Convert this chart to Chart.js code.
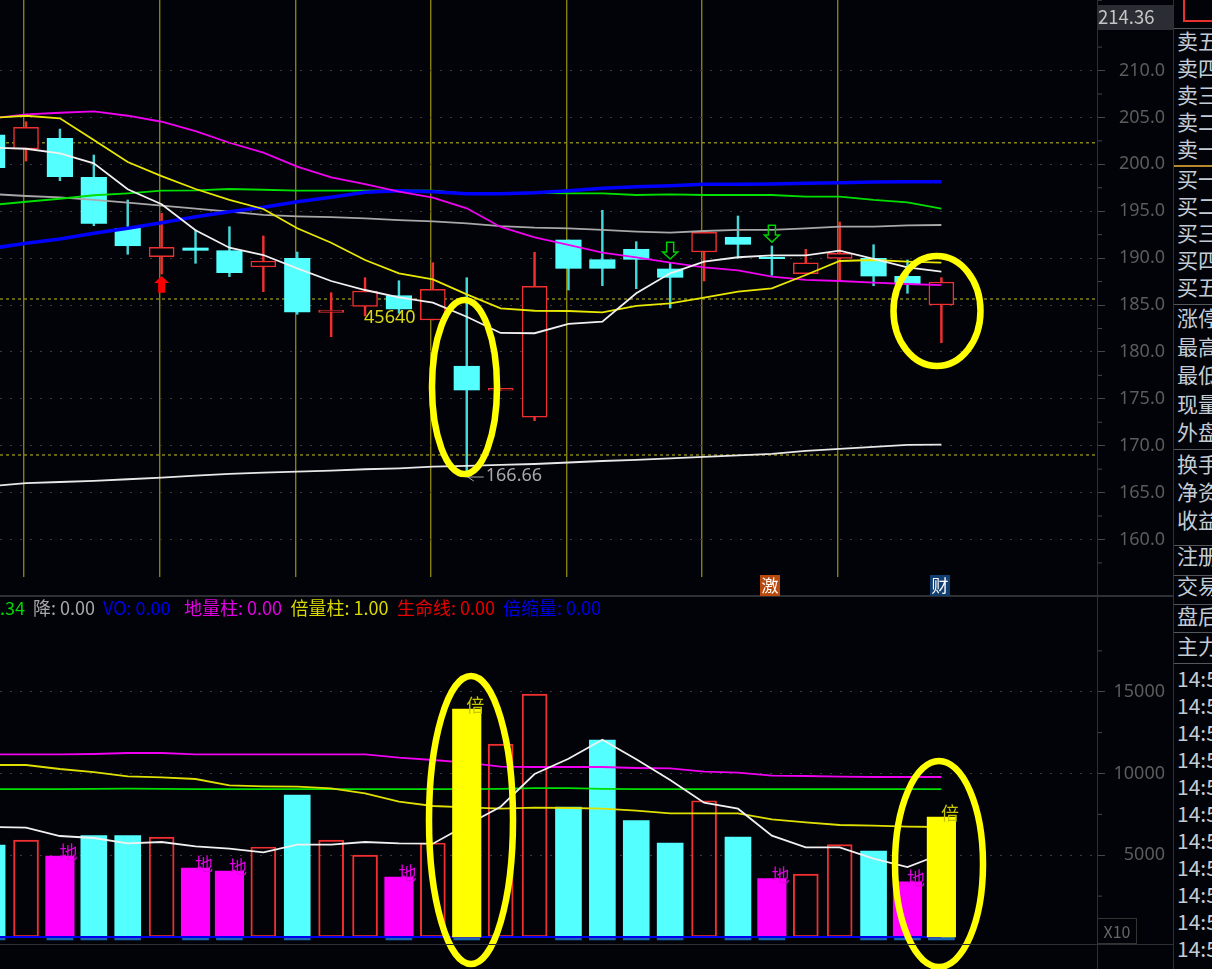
<!DOCTYPE html>
<html>
<head>
<meta charset="utf-8">
<title>K线</title>
<script src="https://cdn.jsdelivr.net/npm/chart.js@4"></script>
<style>
  html, body { margin: 0; padding: 0; background: #020209; width: 1212px; height: 969px; overflow: hidden; }
  body { position: relative; font-family: "Noto Sans CJK SC", sans-serif; }
  canvas { position: absolute; left: 0; }
  #priceChart { top: 0; }
  #volChart { top: 596px; }
  .abs { position: absolute; white-space: nowrap; }
  .rule { position: absolute; background: #2f3033; }
  .side { position: absolute; left: 1177px; font-size: 21px; line-height: 26px; color: #c3ccd4; white-space: nowrap; }
  .head { position: absolute; top: 595px; font-size: 18px; line-height: 24px; white-space: nowrap; }
</style>
</head>
<body>
<canvas id="priceChart" width="1165" height="596" style="width:1165px;height:596px"></canvas>
<canvas id="volChart" width="1165" height="373" style="width:1165px;height:373px"></canvas>
<div id="overlay"></div>
<script>
// --- values ---
const bars = [0,1,2,3,4,5,6,7,8,9,10,11,12,13,14,15,16,17,18,19,20,21,22,23,24,25,26,27,28];

const opens  = [203.12,201.63,202.77,198.62,193.18,190.15,191.08,190.79,189.05,189.98,184.22,184.86,185.99,183.40,178.47,175.91,173.03,191.93,189.83,190.94,188.84,190.65,192.22,190.09,188.34,189.98,189.98,188.06,185.00];
const closes = [199.64,203.94,198.68,193.71,191.32,191.15,190.83,188.45,189.69,184.26,184.47,186.49,184.58,186.68,175.94,176.12,187.00,188.91,188.91,189.87,187.95,192.75,191.47,189.94,189.51,190.51,188.09,187.27,187.45];
const highs  = [203.66,204.54,203.76,200.99,196.20,194.78,193.00,193.35,192.36,190.65,186.31,187.91,187.59,189.51,187.91,176.12,190.62,191.93,195.10,191.75,189.45,192.75,194.49,191.29,190.94,193.85,191.43,189.80,187.91];
const lows   = [199.18,200.35,198.25,193.46,190.41,188.31,189.45,188.02,186.42,184.01,181.62,183.83,184.12,183.40,166.66,175.91,172.67,186.60,187.06,186.74,184.68,187.56,189.98,188.17,188.34,187.59,187.06,186.25,180.98];

const ma5   = [201.77,201.66,201.17,200.11,197.34,195.74,192.97,191.11,190.33,188.91,187.56,186.60,185.82,185.25,183.75,182.02,181.99,182.98,183.22,186.25,188.38,189.62,190.09,190.30,190.30,190.79,189.91,189.02,188.55];
const ma10  = [204.94,205.18,204.90,202.59,200.25,198.75,197.37,196.20,195.24,193.18,191.64,189.80,188.38,187.74,186.14,184.65,184.39,184.36,184.22,184.90,185.18,185.78,186.42,186.78,188.20,189.69,189.80,189.62,189.51];
const ma20  = [204.90,205.33,205.50,205.65,205.18,204.54,203.55,202.30,201.24,199.75,198.62,197.90,197.08,196.44,195.31,193.32,192.22,191.40,190.58,190.09,189.51,189.02,188.70,188.02,187.67,187.56,187.38,187.24,187.13];
const ma30  = [196.83,196.62,196.48,196.20,195.91,195.59,195.27,194.95,194.60,194.46,194.38,194.24,194.06,193.92,193.71,193.42,193.24,193.18,193.00,192.82,192.71,192.89,193.00,193.00,193.18,193.35,193.35,193.50,193.53];
const ma60  = [195.66,196.01,196.33,196.70,196.91,197.19,197.23,197.37,197.29,197.19,197.19,197.19,197.23,197.19,196.87,196.87,196.97,196.91,196.91,196.73,196.80,196.73,196.73,196.73,196.55,196.55,196.20,195.95,195.27];
const ma120 = [191.05,191.58,192.04,192.65,193.18,193.78,194.42,194.95,195.42,196.01,196.48,197.02,197.19,197.08,196.87,196.87,196.97,197.19,197.44,197.61,197.72,197.87,197.87,197.90,197.98,198.04,198.11,198.15,198.15];
const ma250 = [165.71,166.00,166.13,166.24,166.42,166.59,166.81,166.99,167.13,167.23,167.34,167.49,167.59,167.76,167.84,167.95,168.05,168.21,168.37,168.48,168.64,168.80,168.96,169.12,169.44,169.65,169.87,170.08,170.11];

const priceTicks = [160,165,170,175,180,185,190,195,200,205,210];
const refLevels = [202.3, 185.64, 169.01];
const markerBars = [0.94,4.94,8.94,12.94,16.94,20.94,24.94];

const volumes = [5627,5933,4954,6196,6196,6116,4220,4037,5505,8685,5933,5015,3670,5750,13945,11804,14862,7951,12049,7113,5750,8336,6116,3566,3853,5645,5260,3382,7340];
const volKinds = ["down","up","low","down","down","up","low","low","up","down","up","up","low","up","double","up","up","down","down","down","down","up","down","low","up","up","down","low","double"];
const volMa5  = [6728,6685,6177,6055,5731,5810,5547,5400,5180,5645,5645,5810,5731,5706,6850,7970,9970,10905,12067,10868,9602,8214,7847,6196,5486,5486,4789,4281,5076];
const volMa10 = [10520,10520,10275,10090,9828,9767,9663,9278,9217,9192,9094,8789,8275,8012,7932,7847,7908,7890,7847,7724,7565,7565,7565,7198,7015,6850,6807,6746,6728];
const volMa20 = [11174,11174,11174,11192,11253,11253,11174,11174,11174,11174,11174,11174,10966,10825,10660,10416,10397,10397,10397,10336,10318,10110,10049,9865,9847,9804,9786,9786,9786];
const volMa60 = [9050,9050,9050,9060,9070,9060,9050,9050,9050,9050,9050,9050,9050,9050,9050,9060,9110,9110,9060,9050,9050,9050,9050,9050,9050,9050,9050,9050,9050];
const volTicks = [5000,10000,15000];

const sideRows = [["卖五",27],["卖四",54],["卖三",81],["卖二",108],["卖一",135],["买一",165],["买二",192],["买三",219],["买四",246],["买五",273],["涨停",304],["最高",333],["最低",361],["现量",390],["外盘",418],["换手",450],["净资",478],["收益",506],["注册",542],["交易",572],["盘后",602],["主力",632]];
const timeRows = [665,692,719,746,773,800,827,854,881,908,935];
const headItems = [[0,".34","#00d800"],[33,"降: 0.00","#a8a8a8"],[103,"VO: 0.00","#0000e8"],[184,"地量柱: 0.00","#e000e0"],[290.5,"倍量柱: 1.00","#d8d800"],[397,"生命线: 0.00","#e80000"],[503,"倍缩量: 0.00","#0000e8"]];

// --- shared look ---
const BG = "#020209";
const CYAN = "#54ffff";
const RED = "#f03030";
const LABEL_FONT = '"Noto Sans", sans-serif';
const CJK_FONT = '"Noto Sans CJK SC", sans-serif';
const X_MIN = 0.2325, X_MAX = 32.59;

function pick(arr, test) {
  return arr.map((v, i) => (test(i) ? v : null));
}

function lineSet(label, data, yAxisID, color, width, order) {
  return { type: "line", label, data, yAxisID, borderColor: color, borderWidth: width,
           pointRadius: 0, tension: 0, fill: false, order: order, clip: true };
}

function refSet(level) {
  return { type: "line", label: "ref", data: [{ x: X_MIN, y: level }, { x: X_MAX, y: level }],
           yAxisID: "y", borderColor: "#85851a", borderWidth: 1.5, borderDash: [3, 3], pointRadius: 0, order: 30 };
}

function yAxis(min, max, ticks, fmt) {
  return {
    position: "right", min, max,
    afterBuildTicks: s => { s.ticks = ticks.map(v => ({ value: v })); },
    // tick labels must not push the plot area in
    afterFit: s => { s.width = 68; s.paddingTop = 0; s.paddingBottom = 0; },
    ticks: { color: "#5c5c5c", font: { size: 18, family: LABEL_FONT }, crossAlign: "far", callback: fmt },
    grid: { color: "#3a3a3a", tickColor: "#474747", tickLength: 8, drawTicks: true },
    border: { display: false, dash: [2, 8] }
  };
}

function xAxis(lines) {
  const opt = { type: "linear", min: X_MIN, max: X_MAX, display: lines, offset: false,
                ticks: { display: false }, border: { display: false },
                grid: { color: "#85800a", lineWidth: 1.4, drawTicks: false, offset: false } };
  if (lines) opt.afterBuildTicks = s => { s.ticks = markerBars.map(v => ({ value: v })); };
  return opt;
}

function minorTicks(ctx, scale, step) {
  ctx.strokeStyle = "#474747";
  ctx.lineWidth = 1;
  for (let v = Math.ceil(scale.min / step) * step; v < scale.max; v += step) {
    if (v % (step * 2) === 0) continue;
    const y = scale.getPixelForValue(v);
    ctx.beginPath(); ctx.moveTo(scale.left, y); ctx.lineTo(scale.left + 5, y); ctx.stroke();
  }
}

function ring(ctx, cx, cy, rx, ry) {
  ctx.save();
  ctx.strokeStyle = "#ffff00";
  ctx.lineWidth = 6.5;
  ctx.beginPath();
  ctx.ellipse(cx, cy, rx, ry, 0, 0, Math.PI * 2);
  ctx.stroke();
  ctx.restore();
}

// up and down arrows sitting on a candle
function arrow(ctx, x, top, bottom, dir, color, filled) {
  const h = bottom - top, tip = dir > 0 ? top : bottom, back = dir > 0 ? bottom : top;
  const neck = tip + dir * h * 0.42;
  ctx.save();
  ctx.beginPath();
  ctx.moveTo(x, tip);
  ctx.lineTo(x + 7.5, neck);
  ctx.lineTo(x + 3.5, neck);
  ctx.lineTo(x + 3.5, back);
  ctx.lineTo(x - 3.5, back);
  ctx.lineTo(x - 3.5, neck);
  ctx.lineTo(x - 7.5, neck);
  ctx.closePath();
  if (filled) { ctx.fillStyle = color; ctx.fill(); }
  else { ctx.strokeStyle = color; ctx.lineWidth = 1.5; ctx.stroke(); }
  ctx.restore();
}

const priceMarks = {
  id: "priceMarks",
  afterDraw(chart) {
    const { ctx, scales } = chart;
    const x = scales.x, y = scales.y;
    minorTicks(ctx, y, 2.5);
    // red buy arrow and the two green hollow ones
    arrow(ctx, x.getPixelForValue(5), y.getPixelForValue(188.1), y.getPixelForValue(186.3), 1, "#ff0000", true);
    arrow(ctx, x.getPixelForValue(20), y.getPixelForValue(191.7), y.getPixelForValue(189.9), -1, "#00d000", false);
    arrow(ctx, x.getPixelForValue(23), y.getPixelForValue(193.5), y.getPixelForValue(191.7), -1, "#00d000", false);
    // labels
    ctx.save();
    ctx.font = "18px " + LABEL_FONT;
    ctx.textBaseline = "middle";
    ctx.textAlign = "left";
    ctx.fillStyle = "#d8d818";
    ctx.fillText("45640", x.getPixelForValue(11) - 1, y.getPixelForValue(183.62));
    const lowX = x.getPixelForValue(14), lowY = y.getPixelForValue(lows[14]);
    ctx.fillStyle = "#a8a8a8";
    ctx.fillText("166.66", lowX + 19, lowY - 1);
    ctx.strokeStyle = "#a8a8a8";
    ctx.lineWidth = 1;
    ctx.beginPath();
    ctx.moveTo(lowX + 17, lowY); ctx.lineTo(lowX + 1, lowY);
    ctx.moveTo(lowX + 7, lowY - 4); ctx.lineTo(lowX + 1, lowY); ctx.lineTo(lowX + 7, lowY + 4);
    ctx.stroke();
    ctx.restore();
    ring(ctx, 464.5, 387, 32.5, 87);
    ring(ctx, 937, 311, 43.5, 55);
  }
};

const volMarks = {
  id: "volMarks",
  afterDraw(chart) {
    const { ctx, scales } = chart;
    const x = scales.x, y = scales.yv;
    minorTicks(ctx, y, 2500);
    ctx.save();
    ctx.font = "18px " + CJK_FONT;
    ctx.textAlign = "center";
    ctx.textBaseline = "middle";
    volumes.forEach((v, i) => {
      if (volKinds[i] !== "low" && volKinds[i] !== "double") return;
      ctx.fillStyle = volKinds[i] === "low" ? "#e000e0" : "#c8c800";
      ctx.fillText(volKinds[i] === "low" ? "地" : "倍", x.getPixelForValue(i) + 8.5, y.getPixelForValue(v) - 4);
    });
    ctx.restore();
    ring(ctx, 471, 224, 42, 144);
    ring(ctx, 939, 268, 44, 103);
  }
};

// --- price panel ---
const isUp = i => closes[i] >= opens[i];
const wickUp = pick(bars.map(i => [lows[i], highs[i]]), isUp);
const wickDown = pick(bars.map(i => [lows[i], highs[i]]), i => !isUp(i));
const bodyUp = pick(bars.map(i => [opens[i], closes[i]]), isUp);
const bodyDown = pick(bars.map(i => [opens[i], closes[i]]), i => !isUp(i));

new Chart(document.getElementById("priceChart"), {
  type: "bar",
  data: {
    labels: bars,
    datasets: [
      refSet(refLevels[0]), refSet(refLevels[1]), refSet(refLevels[2]),
      { label: "wickUp", data: wickUp, yAxisID: "y", backgroundColor: RED, barThickness: 1.8, grouped: false, order: 20 },
      { label: "wickDown", data: wickDown, yAxisID: "y", backgroundColor: "#44d8d8", barThickness: 1.8, grouped: false, order: 20 },
      { label: "bodyUp", data: bodyUp, yAxisID: "y", backgroundColor: BG, borderColor: RED, borderWidth: 1.5, borderSkipped: false, barThickness: 25, grouped: false, order: 15 },
      { label: "bodyDown", data: bodyDown, yAxisID: "y", backgroundColor: CYAN, barThickness: 25.5, grouped: false, order: 15 },
      lineSet("MA250", ma250, "y", "#e8e8e8", 1.8, 9),
      lineSet("MA30", ma30, "y", "#a8a8a8", 1.8, 8),
      lineSet("MA60", ma60, "y", "#00e000", 1.8, 7),
      lineSet("MA120", ma120, "y", "#0000ff", 3.5, 6),
      lineSet("MA20", ma20, "y", "#f000f0", 1.8, 5),
      lineSet("MA10", ma10, "y", "#e8e800", 1.8, 4),
      lineSet("MA5", ma5, "y", "#f0f0f0", 1.8, 3)
    ]
  },
  options: {
    responsive: false, animation: false,
    layout: { autoPadding: false, padding: { bottom: 19 } },
    plugins: { legend: { display: false }, tooltip: { enabled: false } },
    scales: {
      x: xAxis(true),
      y: yAxis(156.0, 217.52, priceTicks, v => v.toFixed(1))
    }
  },
  plugins: [priceMarks]
});

// --- volume panel ---
const kindIs = k => i => volKinds[i] === k;
const footBars = pick(bars.map(() => [0, -180]), i => volKinds[i] !== "up");

new Chart(document.getElementById("volChart"), {
  type: "bar",
  data: {
    labels: bars,
    datasets: [
      { label: "foot", data: footBars, yAxisID: "yv", backgroundColor: "#1c66b0", barThickness: 26, grouped: false, order: 25 },
      { label: "volDown", data: pick(volumes, kindIs("down")), yAxisID: "yv", backgroundColor: CYAN, barThickness: 26, grouped: false, order: 20 },
      { label: "volUp", data: pick(volumes, kindIs("up")), yAxisID: "yv", backgroundColor: "transparent", borderColor: RED, borderWidth: 1.3, borderSkipped: false, barThickness: 25, grouped: false, order: 20 },
      { label: "volLow", data: pick(volumes, kindIs("low")), yAxisID: "yv", backgroundColor: "#ff00ff", barThickness: 28.5, grouped: false, order: 20 },
      { type: "line", label: "VO", data: [{ x: 0, y: 0 }, { x: 28, y: 0 }], yAxisID: "yv", borderColor: "#0000f0", borderWidth: 2, pointRadius: 0, order: 12 },
      lineSet("volMa60", volMa60, "yv", "#00e000", 1.8, 10),
      lineSet("volMa20", volMa20, "yv", "#f000f0", 1.8, 9),
      lineSet("volMa10", volMa10, "yv", "#e0e000", 1.8, 8),
      lineSet("volMa5", volMa5, "yv", "#f0f0f0", 1.8, 7),
      { label: "volDouble", data: pick(volumes, kindIs("double")), yAxisID: "yv", backgroundColor: "#ffff00", barThickness: 28.5, grouped: false, order: 2 }
    ]
  },
  options: {
    responsive: false, animation: false,
    layout: { autoPadding: false, padding: { bottom: 25 } },
    plugins: { legend: { display: false }, tooltip: { enabled: false } },
    scales: {
      x: xAxis(false),
      yv: yAxis(-428, 20856, volTicks, v => String(v))
    }
  },
  plugins: [volMarks]
});

// --- the parts of the trading screen around the chart ---
const overlay = document.getElementById("overlay");

function add(cls, style, text) {
  const el = document.createElement("div");
  el.className = cls;
  el.style.cssText = style;
  if (text) el.textContent = text;
  overlay.appendChild(el);
  return el;
}

// panel rules
add("rule", "left:0;top:595px;width:1173px;height:2px");
add("rule", "left:0;top:944px;width:1173px;height:1px");
add("rule", "left:1097px;top:0;width:1px;height:969px");
add("rule", "left:1173px;top:0;width:1px;height:969px");
[28, 304, 449, 545, 575, 604, 632, 663].forEach(y => add("rule", `left:1174px;top:${y}px;width:38px;height:1px;background:#55585c`));
add("rule", "left:1174px;top:165px;width:38px;height:2px;background:#b88a30");

// header row of the lower panel
headItems.forEach(([left, text, color]) => add("head", `left:${left}px;color:${color}`, text));

// right column, cut off by the window edge as in the screenshot
sideRows.forEach(([text, top]) => add("side", `top:${top}px`, text));
timeRows.forEach(top => add("side", `top:${top}px`, "14:58"));

// last price tag and the corner box
add("abs", "left:1097px;top:5px;width:76px;height:25px;background:#2a2d33;color:#c4c4c4;font-size:18.5px;line-height:23px;text-indent:1px", "214.36");
add("abs", "left:1183px;top:-2px;width:40px;height:20px;border:2px solid #e8302c");

// event badges
add("abs", "left:760px;top:575px;width:20px;height:21px;background:#b84a10;color:#fff;font-size:17px;line-height:20px;text-align:center", "激");
add("abs", "left:930px;top:575px;width:20px;height:21px;background:#123f70;color:#fff;font-size:17px;line-height:20px;text-align:center", "财");

// zoom box
add("abs", "left:1097px;top:918px;width:40px;height:26px;border:1px solid #333;box-sizing:border-box;color:#666;font-size:16px;line-height:24px;text-align:center", "X10");
</script>
</body>
</html>
